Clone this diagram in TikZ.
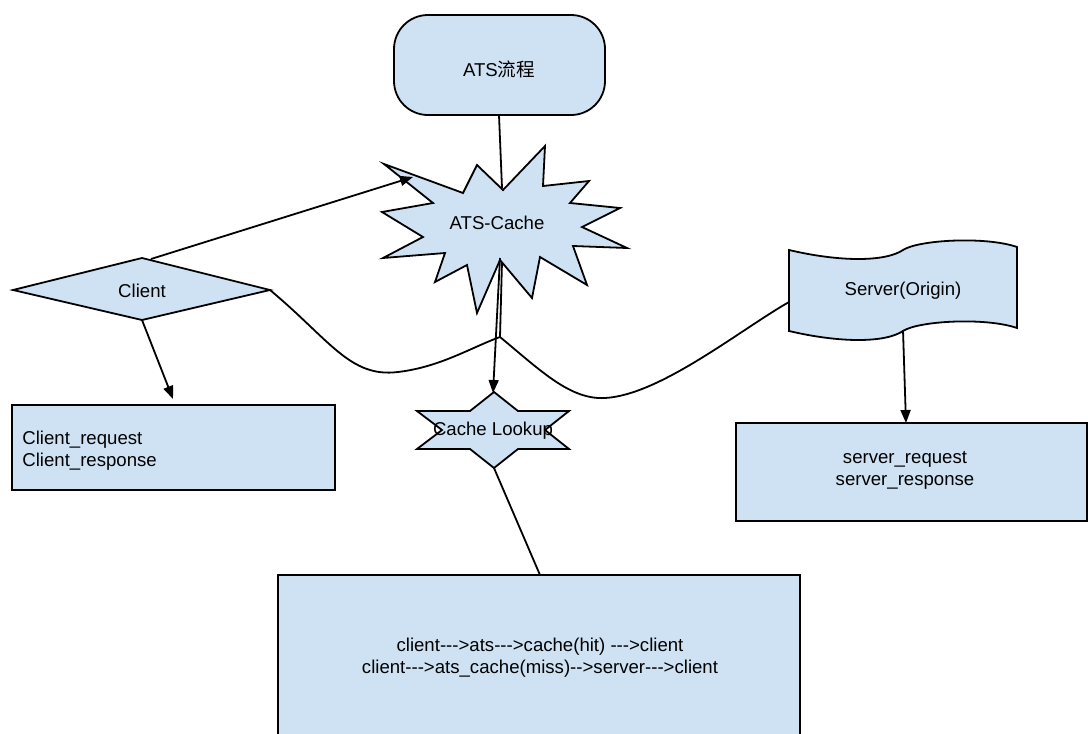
\documentclass[tikz,border=0pt]{standalone}
\usepackage{fontspec}
\newfontfamily\plainfont{Liberation Sans}
\newfontfamily\cjk{Noto Sans CJK SC}
\usetikzlibrary{arrows.meta}
\definecolor{shapefill}{RGB}{207,226,243}
\begin{document}
\begin{tikzpicture}[x=0.5pt,y=-0.5pt,
  shapeline/.style={draw=black,line width=0.9pt,fill=shapefill,line join=miter},
  conn/.style={draw=black,line width=0.9pt},
  arr/.style={conn,-{Triangle[length=6.5pt,width=5pt]}},
  lbl/.style={font=\plainfont\fontsize{9.3}{11}\selectfont,inner sep=0pt,align=center}]
\useasboundingbox (0,0) rectangle (1088,734);
% ATS流程
\draw[shapeline,rounded corners=17pt] (394,15) rectangle (605,115);
\node[lbl] (ats) at (499,69) {ATS{\cjk 流程}};
% ATS-Cache burst
\draw[shapeline] (384,164) -- (463,193) -- (477,165) -- (503,190) -- (545,146) -- (543,186)
  -- (589,181) -- (570,203) -- (620,208) -- (582,227) -- (627,248) -- (573,246)
  -- (587,285) -- (540,257) -- (532,298) -- (500,260) -- (477,313) -- (467,265)
  -- (435,282) -- (445,253) -- (383,258) -- (423,237) -- (382,212) -- (433,203) -- cycle;
\node[lbl] (cache) at (497,223) {ATS-Cache};
% Client diamond
\draw[shapeline] (13,290) -- (142,258) -- (270,290) -- (142,320) -- cycle;
\node[lbl] (client) at (142,291) {Client};
% Client box
\draw[shapeline] (12,405) rectangle (335,490);
\node[lbl,anchor=west,align=left] (clientbox) at (22,451) {Client\_request\\Client\_response};
% Cache Lookup star
\draw[shapeline] (494,392) -- (470,411) -- (417,411) -- (442,430) -- (417,449) -- (470,449)
  -- (494,468) -- (518,449) -- (569,449) -- (545,430) -- (569,411) -- (518,411) -- cycle;
\node[lbl] (lookup) at (493,431) {Cache Lookup};
% Server wave
\draw[shapeline] (789,250) .. controls (840,262) and (885,262) .. (903,250)
  .. controls (918,240) and (985,236) .. (1017,247) -- (1017,328)
  .. controls (985,317) and (918,321) .. (903,331)
  .. controls (885,343) and (840,343) .. (789,331) -- cycle;
\node[lbl] (server) at (903,291) {Server(Origin)};
% Server box
\draw[shapeline] (736,423) rectangle (1087,521);
\node[lbl] (serverbox) at (905,470) {server\_request\\server\_response};
% Bottom box
\draw[shapeline] (278,575) rectangle (800,745);
\node[lbl] (flowbox) at (540,658) {client--->ats--->cache(hit) --->client\\client--->ats\_cache(miss)-->server--->client};
% connector end points
\coordinate (atsB) at (499,115);
\coordinate (cacheT) at (502,188);
\coordinate (cacheC) at (500,258);
\coordinate (cacheC2) at (502,262);
\coordinate (junc) at (500,337);
\coordinate (spike) at (413,177);
\coordinate (clientT) at (151,259);
\coordinate (clientR) at (270,290);
\coordinate (clientB) at (142,320);
\coordinate (clientboxT) at (173,399);
\coordinate (lookupT) at (493,393);
\coordinate (lookupB) at (494,468);
\coordinate (flowT) at (540,575);
\coordinate (serverL) at (789,302);
\coordinate (serverB) at (903,330);
\coordinate (serverboxT) at (906,423);
% connectors
\draw[conn] (atsB) -- (cacheT);
\draw[arr] (clientT) -- (spike);
\draw[arr] (clientB) -- (clientboxT);
\draw[arr] (cacheC) -- (lookupT);
\draw[conn] (cacheC2) -- (junc);
\draw[conn] (clientR) .. controls (330,340) and (350,378) .. (398,372)
  .. controls (440,367) and (470,348) .. (junc);
\draw[conn] (junc) .. controls (540,370) and (570,400) .. (605,398)
  .. controls (660,395) and (740,330) .. (serverL);
\draw[conn] (lookupB) -- (flowT);
\draw[arr] (serverB) -- (serverboxT);
\end{tikzpicture}
\end{document}
